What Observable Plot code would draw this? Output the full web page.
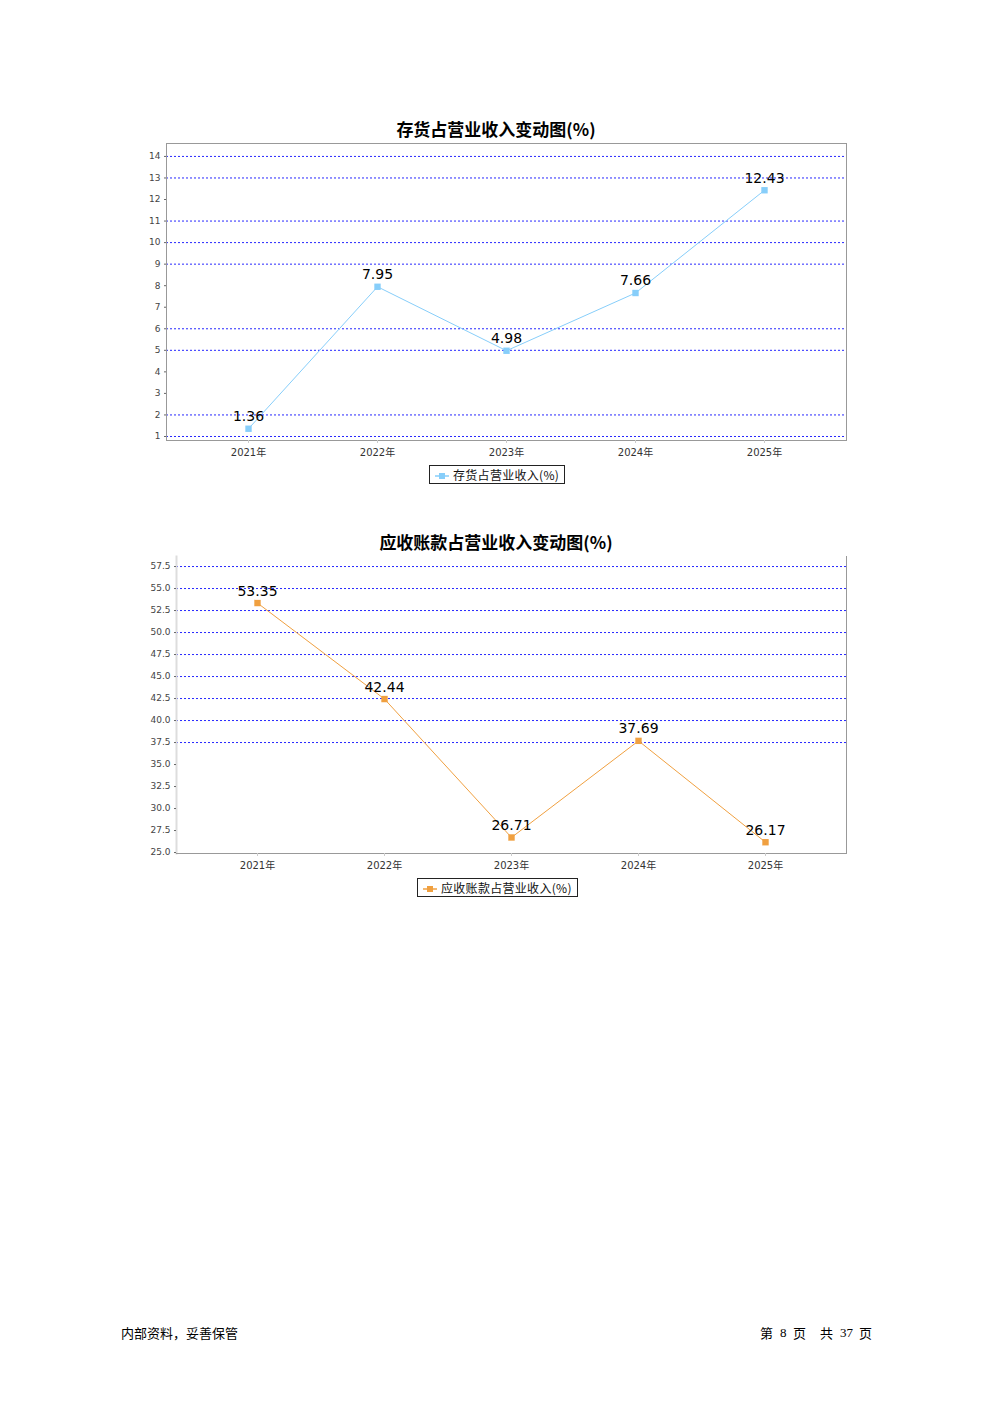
<!DOCTYPE html>
<html>
<head>
<meta charset="utf-8">
<script src="https://cdn.jsdelivr.net/npm/d3@7"></script>
<script src="https://cdn.jsdelivr.net/npm/@observablehq/plot@0.6"></script>
<style>
  html, body { margin: 0; padding: 0; background: #fff; }
  body { width: 992px; height: 1403px; position: relative; font-family: "DejaVu Sans", "Noto Sans CJK SC", sans-serif; }
  .title { position: absolute; left: 0; width: 992px; text-align: center; font-weight: bold; font-size: 17px; line-height: 20px; color: #000; font-family: "Noto Sans CJK SC", "DejaVu Sans", sans-serif; }
  .chart { position: absolute; left: 0; }
  .legend { position: absolute; border: 1px solid #222; height: 19px; box-sizing: border-box; font-size: 12px; line-height: 17px; padding: 0 5px 0 5px; letter-spacing: 0.3px; white-space: nowrap; color: #111; font-family: "Noto Sans CJK SC", "DejaVu Sans", sans-serif; }
  .legend svg { vertical-align: middle; margin-right: 4px; position: relative; top: -1px; }
  .footer { position: absolute; top: 1324px; font-size: 13px; line-height: 18px; color: #000; font-family: "Noto Sans CJK SC", sans-serif; }
  .num { font-family: "Liberation Serif", serif; }
</style>
</head>
<body>
<div class="title" style="top:119px">存货占营业收入变动图(%)</div>
<div class="chart" id="c1" style="top:140px"></div>
<div class="legend" id="lg1" style="left:429px; top:465px"></div>

<div class="title" style="top:532px">应收账款占营业收入变动图(%)</div>
<div class="chart" id="c2" style="top:553px"></div>
<div class="legend" id="lg2" style="left:417px; top:878px"></div>

<div class="footer" style="left:121px">内部资料，妥善保管</div>
<div class="footer" style="left:760px">第</div>
<div class="footer num" style="left:780px">8</div>
<div class="footer" style="left:793px">页</div>
<div class="footer" style="left:820px">共</div>
<div class="footer num" style="left:840px">37</div>
<div class="footer" style="left:859px">页</div>

<script>
// ---- data ----
const years = ["2021年", "2022年", "2023年", "2024年", "2025年"];
const inventoryRatio = [1.36, 7.95, 4.98, 7.66, 12.43];
const receivableRatio = [53.35, 42.44, 26.71, 37.69, 26.17];
const inventoryTicks = [1, 2, 3, 4, 5, 6, 7, 8, 9, 10, 11, 12, 13, 14];
const inventoryGrid = [1, 2, 5, 6, 9, 10, 11, 13, 14];
const receivableTicks = [25, 27.5, 30, 32.5, 35, 37.5, 40, 42.5, 45, 47.5, 50, 52.5, 55, 57.5];
const receivableGrid = [37.5, 40, 42.5, 45, 47.5, 50, 52.5, 55, 57.5];
const seriesNames = ["存货占营业收入(%)", "应收账款占营业收入(%)"];
const colors = ["#87CEFA", "#F0A040"];

const d1 = years.map((y, i) => ({year: y, value: inventoryRatio[i]}));
const d2 = years.map((y, i) => ({year: y, value: receivableRatio[i]}));

const baseStyle = {fontFamily: "'DejaVu Sans', 'Noto Sans CJK SC', sans-serif", background: "transparent", overflow: "visible"};

function chart(data, opts) {
  return Plot.plot({
    width: 992,
    height: opts.height,
    marginLeft: opts.left,
    marginRight: opts.right,
    marginTop: opts.top,
    marginBottom: opts.bottom,
    style: baseStyle,
    x: {type: "point", domain: years, padding: opts.padding, label: null},
    y: {domain: opts.yDomain, label: null},
    marks: [
      Plot.ruleY(opts.grid, {stroke: "#0000FF", strokeWidth: 1, strokeDasharray: "2,2", strokeOpacity: 0.85}),
      ...opts.frameMarks,
      Plot.axisY({ticks: opts.ticks, tickFormat: opts.fmt, tickSize: 2, tickPadding: 4, fontSize: 9, stroke: "#666", fill: "#444"}),
      Plot.axisX({tickSize: 3, tickPadding: 5, fontSize: 10, stroke: "#ccc", fill: "#333"}),
      Plot.line(data, {x: "year", y: "value", stroke: opts.color, strokeWidth: 1}),
      Plot.dot(data, {x: "year", y: "value", symbol: "square", r: 3.6, fill: opts.color, stroke: "none"}),
      Plot.text(data, {x: "year", y: "value", text: d => d.value.toFixed(2), dy: -12, fontSize: 14, fill: "#000"})
    ]
  });
}

document.getElementById("c1").append(chart(d1, {
  height: 322, left: 166, right: 146, top: 3, bottom: 22, padding: 0.62,
  yDomain: [0.814, 14.6], ticks: inventoryTicks, grid: inventoryGrid, fmt: d3.format("d"), color: colors[0],
  frameMarks: [Plot.frame({stroke: "#999", strokeWidth: 1})]
}));

document.getElementById("c2").append(chart(d2, {
  height: 322, left: 176, right: 146, top: 3, bottom: 22, padding: 0.62,
  yDomain: [24.89, 58.64], ticks: receivableTicks, grid: receivableGrid, fmt: d3.format(".1f"), color: colors[1],
  frameMarks: [
    Plot.frame({anchor: "left", stroke: "#ddd", strokeWidth: 2}),
    Plot.frame({anchor: "right", stroke: "#999", strokeWidth: 1}),
    Plot.frame({anchor: "bottom", stroke: "#999", strokeWidth: 1})
  ]
}));

function legend(id, name, color) {
  const el = document.getElementById(id);
  el.innerHTML = `<svg width="14" height="8"><line x1="0" y1="4" x2="14" y2="4" stroke="${color}" stroke-width="1.5"/><rect x="4" y="1" width="6" height="6" fill="${color}"/></svg>${name}`;
}
legend("lg1", seriesNames[0], colors[0]);
legend("lg2", seriesNames[1], colors[1]);
</script>
</body>
</html>
